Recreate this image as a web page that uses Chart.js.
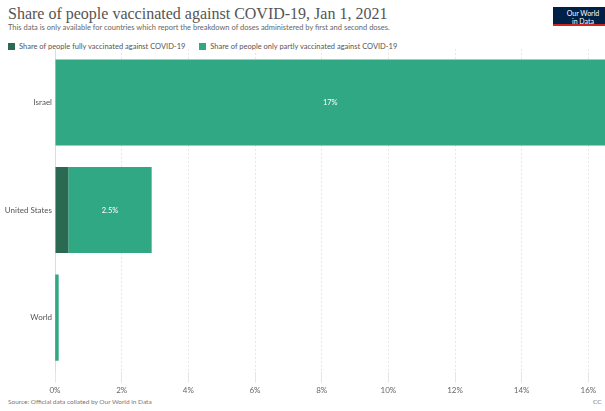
<!DOCTYPE html>
<html>
<head>
<meta charset="utf-8">
<script src="https://cdn.jsdelivr.net/npm/chart.js@4"></script>
<style>
    html, body { margin: 0; padding: 0; width: 605px; height: 411px; overflow: hidden; background: #fff; font-family: Lato, sans-serif; }
    #title { position: absolute; left: 8px; top: 5px; font-family: 'Liberation Serif', serif; font-size: 16px; color: #555; white-space: nowrap; }
    #subtitle { position: absolute; left: 8px; top: 23px; font-size: 7.5px; color: #666; white-space: nowrap; }
    #legend { position: absolute; left: 8px; top: 42px; font-size: 7.5px; color: #555; white-space: nowrap; }
    #legend span.item { display: inline-block; margin-right: 14px; }
    #legend i { display: inline-block; width: 7px; height: 7px; margin-right: 4px; vertical-align: -1px; }
    #logo { position: absolute; left: 553px; top: 7px; width: 60px; height: 19px; background: #002147; border-bottom: 2px solid #ce261e; color: #fff; font-size: 7px; line-height: 8px; text-align: center; padding-top: 2px; box-sizing: border-box; }
    #source { position: absolute; left: 8px; top: 398px; font-size: 6.5px; color: #777; white-space: nowrap; }
    #cc { position: absolute; left: 593px; top: 398px; font-size: 6.5px; color: #777; }
    #wrap { position: absolute; left: 0; top: 41px; width: 605px; height: 357px; }
</style>
</head>
<body>
<div id="title">Share of people vaccinated against COVID-19, Jan 1, 2021</div>
<div id="subtitle">This data is only available for countries which report the breakdown of doses administered by first and second doses.</div>
<div id="legend"></div>
<div id="logo">Our World<br>in Data</div>
<div id="wrap"><canvas id="chart"></canvas></div>
<div id="source">Source: Official data collated by Our World in Data</div>
<div id="cc">CC</div>
<script>
const countries = ['Israel', 'United States', 'World'];
const fullyVaccinated = [0, 0.4, 0.01];
const partlyVaccinated = [17, 2.5, 0.1];
const xTicks = [0, 2, 4, 6, 8, 10, 12, 14, 16];
const seriesNames = ['Share of people fully vaccinated against COVID-19', 'Share of people only partly vaccinated against COVID-19'];
const seriesColors = ['#2b6a52', '#30a883'];

document.getElementById('legend').innerHTML = seriesNames.map((n, i) =>
    `<span class="item"><i style="background:${seriesColors[i]}"></i>${n}</span>`).join('');

// value labels inside the partly vaccinated segments
const barLabels = {
    id: 'barLabels',
    afterDatasetsDraw(chart) {
        const ctx = chart.ctx;
        const area = chart.chartArea;
        const meta = chart.getDatasetMeta(1);
        ctx.save();
        ctx.font = '7.5px Lato, sans-serif';
        ctx.fillStyle = '#fff';
        ctx.textAlign = 'center';
        ctx.textBaseline = 'middle';
        meta.data.forEach((bar, i) => {
            const left = Math.max(bar.base, area.left);
            const right = Math.min(bar.x, area.right);
            if (right - left < 25) return;
            const v = partlyVaccinated[i];
            const txt = (v >= 10 ? Math.round(v) : v.toFixed(1)) + '%';
            ctx.fillText(txt, (left + right) / 2, bar.y);
        });
        ctx.restore();
    }
};

new Chart(document.getElementById('chart'), {
    type: 'bar',
    data: {
        labels: countries,
        datasets: [
            { label: seriesNames[0], data: fullyVaccinated, backgroundColor: seriesColors[0] },
            { label: seriesNames[1], data: partlyVaccinated, backgroundColor: seriesColors[1] }
        ]
    },
    options: {
        indexAxis: 'y',
        responsive: true,
        maintainAspectRatio: false,
        animation: false,
        datasets: { bar: { barPercentage: 0.8, categoryPercentage: 1 } },
        plugins: { legend: { display: false }, tooltip: { enabled: false } },
        scales: {
            x: {
                stacked: true,
                min: 0,
                max: 16.5,
                afterBuildTicks: axis => { axis.ticks = xTicks.map(v => ({ value: v })); },
                grid: { color: '#e6e6e6', tickLength: 11, tickColor: '#e6e6e6' },
                border: { display: true, color: 'rgba(0,0,0,0)', dash: [2, 2] },
                ticks: { color: '#666', font: { size: 8, family: 'Lato' }, callback: v => v + '%', padding: 3 }
            },
            y: {
                stacked: true,
                afterFit: axis => { axis.width = 55; },
                grid: { display: false, drawTicks: false, tickLength: 0 },
                border: { display: true, color: '#ddd' },
                ticks: { color: '#555', font: { size: 8, family: 'Lato' }, padding: 3 }
            }
        }
    },
    plugins: [barLabels]
});
</script>
</body>
</html>
